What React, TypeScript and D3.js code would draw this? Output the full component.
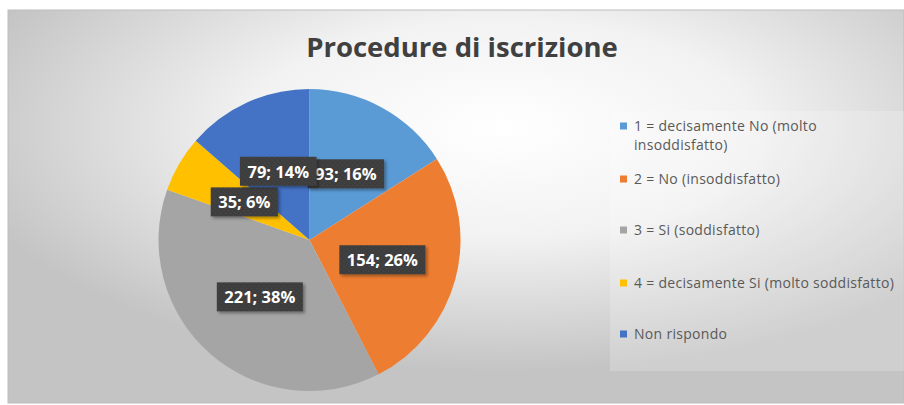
import React, { useEffect, useRef } from "react";
import * as d3 from "d3";

const title = "Procedure di iscrizione";
const categories = [
  "1 = decisamente No (molto insoddisfatto)",
  "2 = No (insoddisfatto)",
  "3 = Si (soddisfatto)",
  "4 = decisamente Si (molto soddisfatto)",
  "Non rispondo",
];
const legendLines = [
  ["1 = decisamente No (molto", "insoddisfatto)"],
  ["2 = No (insoddisfatto)"],
  ["3 = Si (soddisfatto)"],
  ["4 = decisamente Si (molto soddisfatto)"],
  ["Non rispondo"],
];
const values = [93, 154, 221, 35, 79];
const colors = ["#5B9BD5", "#ED7D31", "#A5A5A5", "#FFC000", "#4472C4"];

const W = 904;
const H = 405;
const legendY = [126, 179, 230, 283, 334];
const FONT = "'Open Sans', Lato, sans-serif";

export default function App() {
  const ref = useRef<SVGSVGElement>(null);

  useEffect(() => {
    const svg = d3.select(ref.current);
    svg.selectAll("*").remove();

    const defs = svg.append("defs");
    const grad = defs
      .append("radialGradient")
      .attr("id", "bg")
      .attr("cx", "55%")
      .attr("cy", "30%")
      .attr("r", "62%");
    grad.append("stop").attr("offset", "0%").attr("stop-color", "#ffffff");
    grad.append("stop").attr("offset", "45%").attr("stop-color", "#f2f2f2");
    grad.append("stop").attr("offset", "100%").attr("stop-color", "#c4c4c4");

    const pat = defs
      .append("pattern")
      .attr("id", "dots")
      .attr("width", 5)
      .attr("height", 5)
      .attr("patternUnits", "userSpaceOnUse");
    pat.append("rect").attr("width", 5).attr("height", 5).attr("fill", "#3d3d3d");
    pat.append("circle").attr("cx", 1.5).attr("cy", 1.5).attr("r", 0.8).attr("fill", "#4a4a4a");
    pat.append("circle").attr("cx", 4).attr("cy", 4).attr("r", 0.8).attr("fill", "#4a4a4a");

    const f = defs
      .append("filter")
      .attr("id", "shadow")
      .attr("x", "-20%")
      .attr("y", "-20%")
      .attr("width", "150%")
      .attr("height", "160%");
    f.append("feDropShadow")
      .attr("dx", 2)
      .attr("dy", 2)
      .attr("stdDeviation", 1.5)
      .attr("flood-color", "#000")
      .attr("flood-opacity", 0.35);

    // background
    svg
      .append("rect")
      .attr("x", 8)
      .attr("y", 10)
      .attr("width", W - 8)
      .attr("height", 393)
      .attr("fill", "url(#bg)")
      .attr("stroke", "#bdbdbd")
      .attr("stroke-width", 1);

    // title
    svg
      .append("text")
      .attr("x", 462)
      .attr("y", 57)
      .attr("text-anchor", "middle")
      .attr("font-family", FONT)
      .attr("font-weight", "bold")
      .attr("font-size", 27.5)
      .attr("fill", "#404040")
      .text(title);

    // pie
    const cx = 309.5;
    const cy = 240;
    const r = 151;
    const total = d3.sum(values);
    const pie = d3.pie<number>().sort(null).value((d) => d);
    const arcs = pie(values);
    const arc = d3.arc<d3.PieArcDatum<number>>().innerRadius(0).outerRadius(r);

    const g = svg.append("g").attr("transform", `translate(${cx},${cy})`);
    g.selectAll("path.slice")
      .data(arcs)
      .enter()
      .append("path")
      .attr("class", "slice")
      .attr("d", arc)
      .attr("fill", (_d, i) => colors[i]);

    // labels
    arcs.forEach((a, i) => {
      const [lx, ly] = arc.centroid(a);
      const label = `${values[i]}; ${Math.round((values[i] / total) * 100)}%`;
      const lg = g.append("g").attr("transform", `translate(${lx},${ly})`);
      const rect = lg.append("rect").attr("fill", "url(#dots)").attr("filter", "url(#shadow)");
      const t = lg
        .append("text")
        .attr("text-anchor", "middle")
        .attr("y", 6.5)
        .attr("font-family", FONT)
        .attr("font-weight", "bold")
        .attr("font-size", 16.5)
        .attr("fill", "#ffffff")
        .text(label);
      const w = (t.node() as SVGTextElement).getComputedTextLength();
      const bw = w + 15;
      const bh = 29;
      rect.attr("x", -bw / 2).attr("y", -bh / 2).attr("width", bw).attr("height", bh);
    });

    // legend
    svg
      .append("rect")
      .attr("x", 610)
      .attr("y", 111)
      .attr("width", W - 610)
      .attr("height", 260)
      .attr("fill", "#ffffff")
      .attr("opacity", 0.2);

    const lgd = svg.append("g");
    categories.forEach((_c, i) => {
      const y = legendY[i];
      lgd
        .append("rect")
        .attr("x", 620)
        .attr("y", y - 3.5)
        .attr("width", 7)
        .attr("height", 7)
        .attr("fill", colors[i]);
      legendLines[i].forEach((line, j) => {
        lgd
          .append("text")
          .attr("x", 634)
          .attr("y", y + j * 19 + 5)
          .attr("font-family", FONT)
          .attr("font-size", 14)
          .attr("letter-spacing", 0.3)
          .attr("fill", "#595959")
          .text(line);
      });
    });
  }, []);

  return (
    <svg
      ref={ref}
      width={W}
      height={H}
      style={{ position: "absolute", left: 0, top: 0, display: "block" }}
    />
  );
}
